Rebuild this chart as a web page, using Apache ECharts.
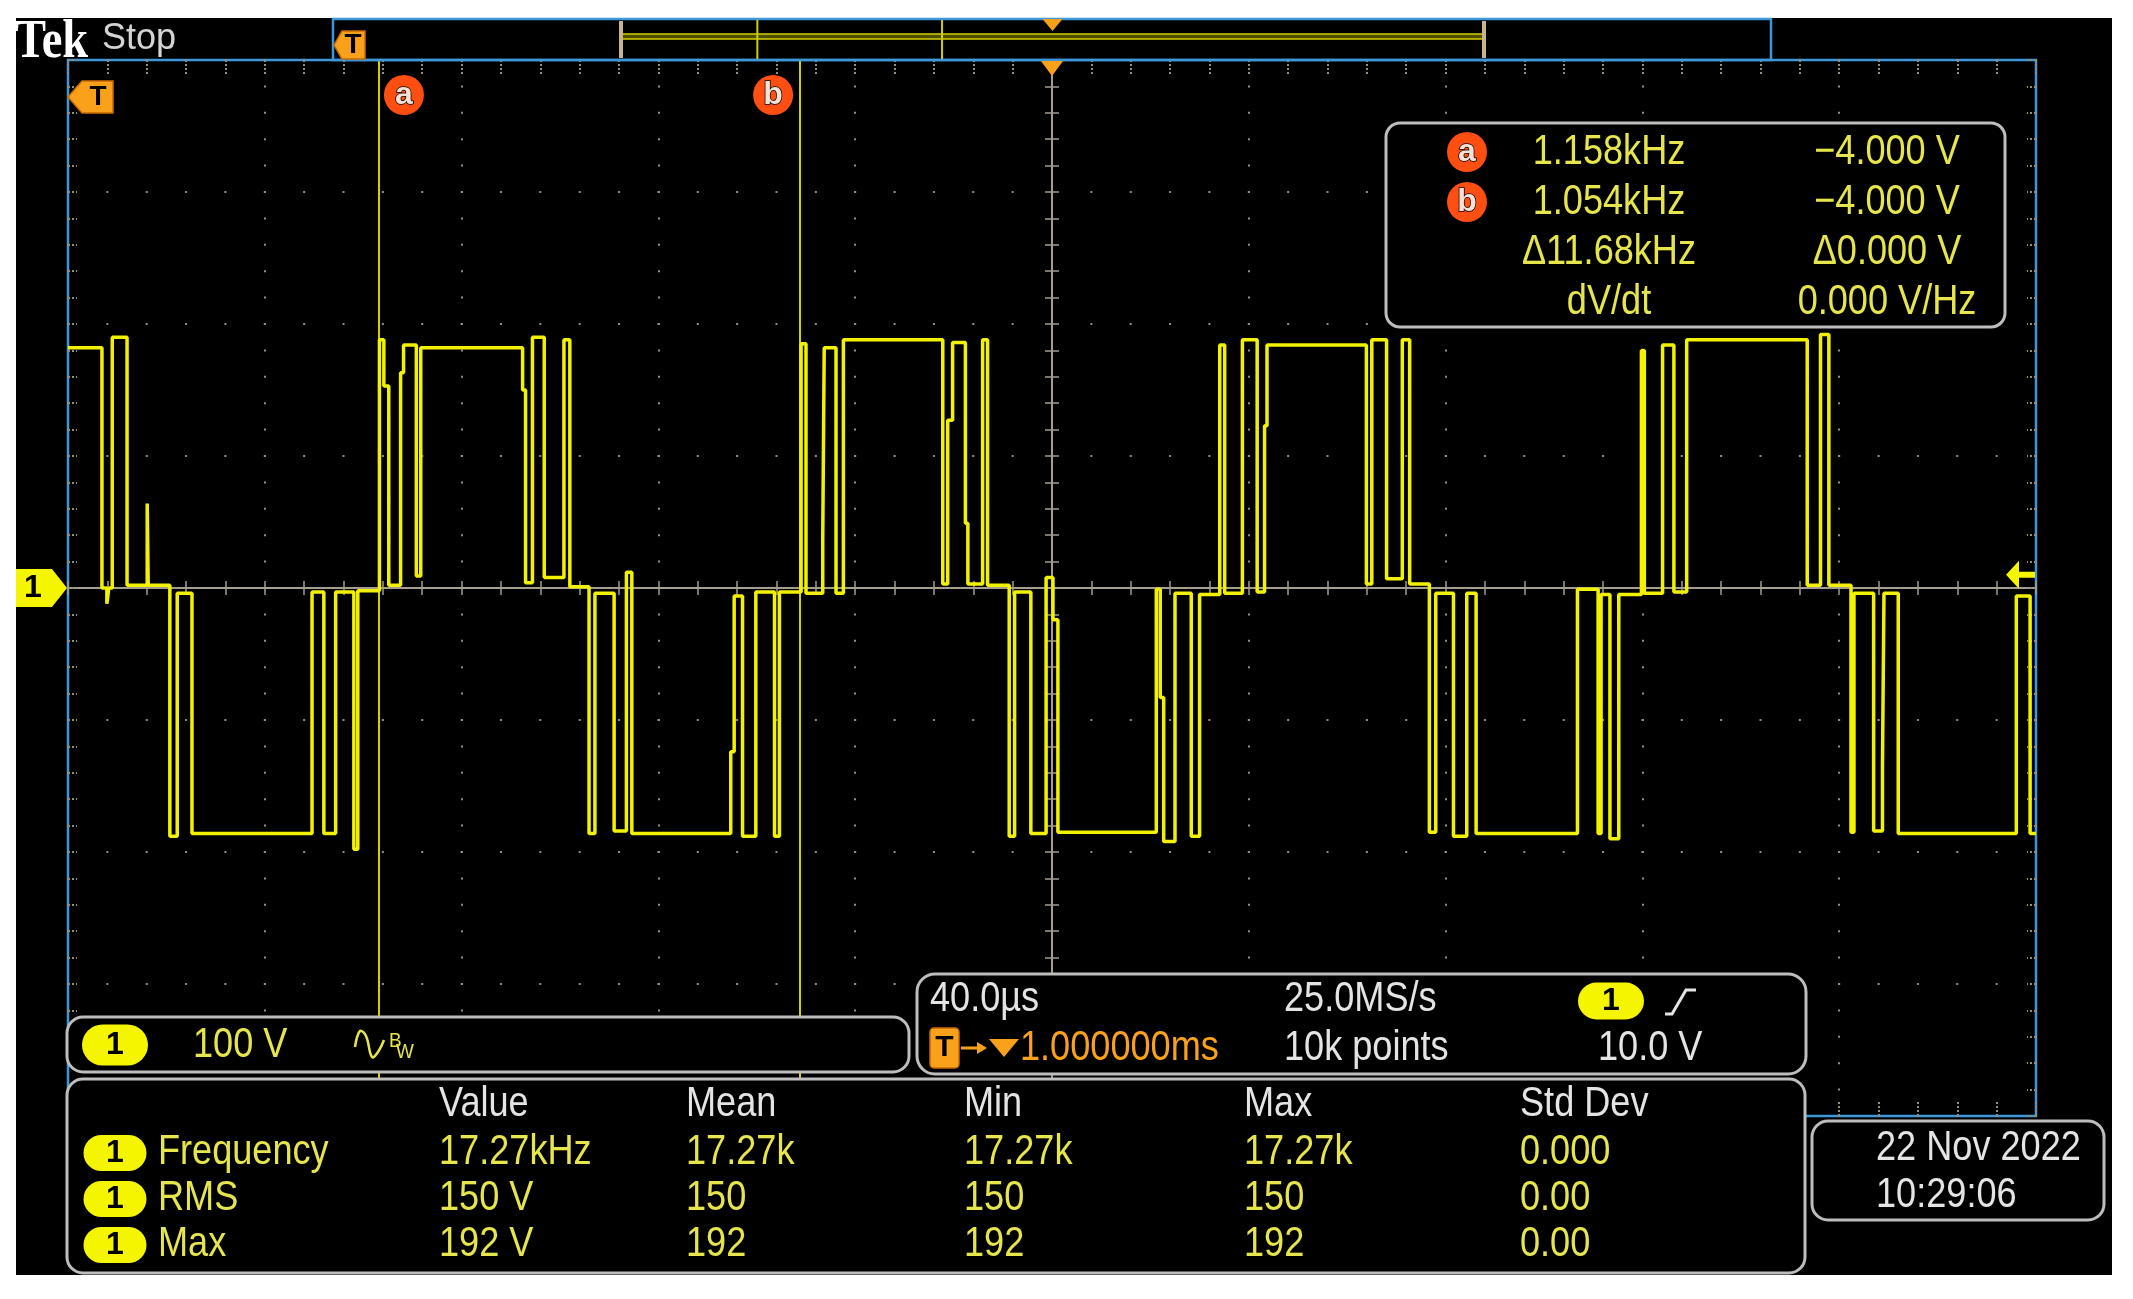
<!DOCTYPE html>
<html>
<head>
<meta charset="utf-8">
<title>Tek scope capture</title>
<script src="https://cdn.jsdelivr.net/npm/echarts@6.0.0/dist/echarts.min.js"></script>
<style>
  html, body { margin: 0; padding: 0; background: #fff; }
  #chart { width: 2133px; height: 1299px; }
</style>
</head>
<body>
<div id="chart"></div>
<script>
// scope settings: 40 us/div x 10 div, 100 V/div x 8 div, trigger at centre
const timeRange = [-200, 200]
const timePerDiv = 40
const voltRange = [-400, 400]
const voltsPerDiv = 100
const triggerLevel = 10

// CH1 trace: level (V) holds from each edge time (us) to the next one
const edgeTimes = [
  -200, -193.1, -192.1, -191.7, -191.0, -188.0, -183.9, -183.7, -179.3, -177.8,
  -174.8, -150.4, -148.0, -145.6, -141.9, -141.1, -136.7, -135.8, -134.8, -132.4,
  -131.8, -129.2, -128.3, -107.6, -107.0, -105.6, -103.2, -99.2, -98.0, -94.1,
  -92.9, -89.0, -86.5, -85.4, -65.3, -64.6, -62.9, -60.2, -56.4, -55.4,
  -51.0, -50.0, -46.6, -46.3, -43.9, -42.4, -22.2, -21.2, -20.2, -17.6,
  -17.1, -14.1, -13.1, -8.7, -7.6, -4.3, -1.2, 0.2, 1.2, 21.2,
  22.0, 22.7, 25.0, 28.3, 30.0, 34.1, 35.1, 38.7, 41.7, 43.2,
  43.7, 63.9, 65.0, 68.0, 71.2, 72.7, 76.7, 78.0, 81.6, 84.3,
  86.2, 106.8, 111.0, 111.6, 113.4, 115.2, 119.8, 120.4, 124.1, 126.4,
  129.0, 153.5, 156.2, 157.9, 162.4, 163.0, 167.0, 168.8, 169.1, 172.0,
  196.0, 198.8, 200
]
const edgeLevels = [
  182, 0, -12, 0, 190, 2, 64, 2, -188, -4,
  -186, -3, -186, -3, -198, -2, 188, 153, 2, 163,
  184, 9, 182, 150, 4, 190, 8, 188, 1, -186,
  -4, -184, 12, -186, -124, -6, -188, -3, -188, -3,
  185, -4, 35, 182, -4, 188, 3, 127, 186, 49,
  3, 188, 2, -188, -3, -186, 8, -24, -185, -1,
  -83, -192, -4, -188, -5, 184, -4, 188, -3, 123,
  184, 3, 188, 7, 188, 3, -185, -4, -188, -4,
  -186, -1, -186, -5, -190, -5, 180, -4, 184, -3,
  188, 2, 192, 2, -185, -4, -184, -134, -4, -186,
  -6, -186, -186
]

const cursorTimes = [-136.8, -51.2]
const cursorNames = ['a', 'b']

const readoutTimes = ['1.158kHz', '1.054kHz', '\u039411.68kHz', 'dV/dt']
const readoutVolts = ['\u22124.000 V', '\u22124.000 V', '\u03940.000 V', '0.000 V/Hz']

const measHeaders = ['Value', 'Mean', 'Min', 'Max', 'Std Dev']
const measNames = ['Frequency', 'RMS', 'Max']
const measFrequency = ['17.27kHz', '17.27k', '17.27k', '17.27k', '0.000']
const measRms = ['150 V', '150', '150', '150', '0.00']
const measMax = ['192 V', '192', '192', '192', '0.00']

const BLUE = '#3d97d9'
const TRACE = '#f2f200'
const CURSOR = '#d2d000'
const PILL = '#f5f500'
const YEL_TXT = '#e6e64c'
const WHITE_TXT = '#e4e4e4'
const ORANGE = '#f9a11b'
const RED = '#ff4e12'
const BOX = '#bdbdbd'
const DOT = '#958e7b'
const CROSS = '#a59d8d'
const SANS = '"Liberation Sans", Arial, sans-serif'

const plot = { left: 68, top: 60, width: 1968, height: 1056 }

const chart = echarts.init(document.getElementById('chart'))

function timeAxis(gridIndex, position, parts) {
  return Object.assign({
    type: 'value', gridIndex, position,
    min: timeRange[0], max: timeRange[1], interval: timePerDiv,
    axisLabel: { show: false },
    axisLine: { show: false, onZero: false },
    axisTick: { show: false },
    minorTick: { show: false },
    splitLine: { show: false }
  }, parts)
}

function voltAxis(gridIndex, position, parts) {
  return Object.assign({
    type: 'value', gridIndex, position,
    min: voltRange[0], max: voltRange[1], interval: voltsPerDiv,
    axisLabel: { show: false },
    axisLine: { show: false, onZero: false },
    axisTick: { show: false },
    minorTick: { show: false },
    splitLine: { show: false }
  }, parts)
}

const edgeTicks = len => ({
  axisTick: { show: true, inside: true, length: len, lineStyle: { color: DOT, width: 2, type: [2, 2] } },
  minorTick: { show: true, splitNumber: 5, length: len, lineStyle: { color: DOT, width: 2, type: [2, 2] } }
})

const crossTicks = () => ({
  axisLine: { show: true, onZero: true, lineStyle: { color: CROSS, width: 2 } },
  axisTick: { show: true, inside: true, length: 7, lineStyle: { color: CROSS, width: 1.5 } },
  minorTick: { show: true, splitNumber: 5, length: 7, lineStyle: { color: CROSS, width: 1.5 } }
})

chart.setOption({
  backgroundColor: '#ffffff',
  animation: false,
  grid: [0, 1, 2, 3].map(i => ({
    ...plot, show: i === 0, borderColor: BLUE, borderWidth: 2.5, backgroundColor: 'transparent'
  })),
  xAxis: [
    timeAxis(0, 'top', {
      ...edgeTicks(14),
      splitLine: { show: true, lineStyle: { color: DOT, width: 2, type: [2, plot.height / 40 - 2], dashOffset: 1 } }
    }),
    timeAxis(1, 'bottom', crossTicks()),
    timeAxis(2, 'top', crossTicks()),
    timeAxis(3, 'bottom', edgeTicks(14))
  ],
  yAxis: [
    voltAxis(0, 'left', {
      ...edgeTicks(9),
      splitLine: { show: true, lineStyle: { color: DOT, width: 2, type: [2, plot.width / 50 - 2], dashOffset: 1 } }
    }),
    voltAxis(1, 'left', crossTicks()),
    voltAxis(2, 'right', crossTicks()),
    voltAxis(3, 'right', edgeTicks(9))
  ],
  series: [{
    type: 'line',
    xAxisIndex: 0,
    yAxisIndex: 0,
    data: edgeTimes.map((t, i) => [t, edgeLevels[i]]),
    step: 'end',
    showSymbol: false,
    symbol: 'none',
    silent: true,
    z: 5,
    lineStyle: { color: TRACE, width: 3.5 },
    markLine: {
      silent: true,
      symbol: ['none', 'none'],
      label: { show: false },
      lineStyle: { color: CURSOR, width: 2, type: 'solid' },
      data: cursorTimes.map(t => ({ xAxis: t }))
    }
  }]
})

// ---- screen furniture ----
function txt(x, base, str, fill, o = {}) {
  const size = o.size || 42
  const align = o.align || 'left'
  return {
    type: 'text', x, y: base - size * 0.35, z: 62, silent: true,
    scaleX: o.scaleX == null ? 0.86 : o.scaleX,
    style: {
      text: str, fill,
      font: `${o.weight || 'normal'} ${size}px ${o.family || SANS}`,
      align, verticalAlign: 'middle', textAlign: align, textVerticalAlign: 'middle'
    }
  }
}

function box(x, y, w, h, r) {
  return {
    type: 'rect', z: 60, silent: true,
    shape: { x, y, width: w, height: h, r },
    style: { fill: '#000', stroke: BOX, lineWidth: 3 }
  }
}

function pill(cx, cy, w, h) {
  return [
    { type: 'rect', z: 61, silent: true, shape: { x: cx - w / 2, y: cy - h / 2, width: w, height: h, r: h / 2 }, style: { fill: PILL } },
    txt(cx, cy + 11, '1', '#000', { size: 32, weight: 'bold', align: 'center', scaleX: 1 })
  ]
}

function tMarker(points, cx, cy) {
  return [
    { type: 'polygon', z: 61, silent: true, shape: { points }, style: { fill: ORANGE, stroke: '#c86a00', lineWidth: 1.5 } },
    txt(cx, cy + 10, 'T', '#000', { size: 28, weight: 'bold', align: 'center', scaleX: 1 })
  ]
}

function circleLabel(cx, cy, ch) {
  return [
    { type: 'circle', z: 61, silent: true, shape: { cx, cy, r: 20 }, style: { fill: RED } },
    {
      type: 'text', z: 62, silent: true, x: cx, y: cy,
      style: {
        text: ch, fill: '#f4e2d6', stroke: '#000', lineWidth: 1.5,
        font: `bold 32px ${SANS}`, align: 'center', verticalAlign: 'middle',
        textAlign: 'center', textVerticalAlign: 'middle'
      }
    }
  ]
}

const px = (t, v) => chart.convertToPixel({ gridIndex: 0 }, [t, v])
const barLeft = 621, barWidth = 863
const barX = t => barLeft + (t - timeRange[0]) / (timeRange[1] - timeRange[0]) * barWidth

const g = []

// black screen
g.push({ type: 'rect', z: -100, silent: true, shape: { x: 16, y: 18, width: 2096, height: 1257 }, style: { fill: '#000' } })

// header
g.push(txt(15, 62, 'Tek', '#ffffff', { size: 54, weight: 'bold', family: '"Liberation Serif", serif', scaleX: 0.86 }))
g.push(txt(102, 52, 'Stop', '#d4d4d4', { size: 36, scaleX: 1.0 }))

// record overview bar
g.push({ type: 'rect', z: 10, silent: true, shape: { x: 333, y: 19, width: 1438, height: 41 }, style: { fill: 'none', stroke: BLUE, lineWidth: 2.5 } })
g.push({ type: 'rect', z: 11, silent: true, shape: { x: barLeft, y: 34, width: barWidth, height: 5 }, style: { fill: '#4d4d00', stroke: '#d6d000', lineWidth: 1.5 } })
;[barLeft, barLeft + barWidth].forEach(x => {
  g.push({ type: 'line', z: 12, silent: true, shape: { x1: x, y1: 21, x2: x, y2: 58 }, style: { stroke: '#c8b38c', lineWidth: 4 } })
})
cursorTimes.forEach(t => {
  g.push({ type: 'line', z: 12, silent: true, shape: { x1: barX(t), y1: 20, x2: barX(t), y2: 59 }, style: { stroke: CURSOR, lineWidth: 2 } })
})
g.push({ type: 'polygon', z: 12, silent: true, shape: { points: [[barX(0) - 10, 19], [barX(0) + 10, 19], [barX(0), 31]] }, style: { fill: ORANGE } })
g.push(...tMarker([[334, 45], [342, 31], [365, 31], [365, 59], [342, 59]], 353, 45))

// markers on the graticule
const trig = px(0, 0)
g.push({ type: 'polygon', z: 20, silent: true, shape: { points: [[trig[0] - 11, 61], [trig[0] + 11, 61], [trig[0], 76]] }, style: { fill: ORANGE } })
g.push(...tMarker([[68, 97], [82, 81], [113, 81], [113, 113], [82, 113]], 98, 97))

const gnd = px(timeRange[0], 0)
g.push({ type: 'polygon', z: 20, silent: true, shape: { points: [[16, gnd[1] - 19], [52, gnd[1] - 19], [67, gnd[1]], [52, gnd[1] + 19], [16, gnd[1] + 19]] }, style: { fill: PILL } })
g.push(txt(33, gnd[1] + 11, '1', '#000', { size: 32, weight: 'bold', align: 'center', scaleX: 1 }))

const lvl = px(timeRange[1], triggerLevel)
g.push({
  type: 'polygon', z: 20, silent: true,
  shape: { points: [[2006, lvl[1]], [2019, lvl[1] - 14], [2019, lvl[1] - 3], [2035, lvl[1] - 3], [2035, lvl[1] + 3], [2019, lvl[1] + 3], [2019, lvl[1] + 14]] },
  style: { fill: PILL }
})

cursorTimes.forEach((t, i) => {
  const x = px(t, 0)[0]
  g.push(...circleLabel(i === 0 ? x + 25 : x - 27, 95, cursorNames[i]))
})

// cursor readout
g.push(box(1386, 123, 619, 204, 14))
const readoutBase = [167, 217, 267, 317]
readoutTimes.forEach((s, i) => {
  g.push(txt(1609, readoutBase[i], s, YEL_TXT, { align: 'center' }))
  g.push(txt(1887, readoutBase[i], readoutVolts[i], YEL_TXT, { align: 'center' }))
})
cursorNames.forEach((c, i) => g.push(...circleLabel(1467, readoutBase[i] - 15, c)))

// channel box
g.push(box(67, 1017, 842, 55, 16))
g.push(...pill(115, 1045, 66, 41))
g.push(txt(193, 1060, '100 V', YEL_TXT))
g.push({
  type: 'polyline', z: 62, silent: true,
  shape: { points: [[355, 1047], [360, 1031], [366, 1036], [372, 1057], [378, 1052], [384, 1040]], smooth: 0.4 },
  style: { stroke: YEL_TXT, lineWidth: 2.5, fill: 'none' }
})
g.push(txt(389, 1049, 'B', YEL_TXT, { size: 21, scaleX: 0.9 }))
g.push(txt(396, 1060, 'W', YEL_TXT, { size: 21, scaleX: 0.9 }))

// timebase / trigger box
g.push(box(917, 974, 889, 100, 18))
g.push(txt(930, 1014, '40.0\u00b5s', WHITE_TXT))
g.push(txt(1284, 1014, '25.0MS/s', WHITE_TXT))
g.push(...pill(1611, 1001, 66, 37))
g.push({
  type: 'polyline', z: 62, silent: true,
  shape: { points: [[1665, 1014], [1672, 1014], [1686, 990], [1696, 990]] },
  style: { stroke: WHITE_TXT, lineWidth: 3, fill: 'none' }
})
g.push({ type: 'rect', z: 61, silent: true, shape: { x: 930, y: 1028, width: 29, height: 40, r: 4 }, style: { fill: ORANGE, stroke: '#c86a00', lineWidth: 1.5 } })
g.push(txt(944.5, 1058, 'T', '#000', { size: 30, weight: 'bold', align: 'center', scaleX: 1 }))
g.push({ type: 'line', z: 61, silent: true, shape: { x1: 961, y1: 1048, x2: 980, y2: 1048 }, style: { stroke: ORANGE, lineWidth: 3 } })
g.push({ type: 'polygon', z: 61, silent: true, shape: { points: [[977, 1042], [987, 1048], [977, 1054]] }, style: { fill: ORANGE } })
g.push({ type: 'polygon', z: 61, silent: true, shape: { points: [[989, 1039], [1019, 1039], [1004, 1057]] }, style: { fill: ORANGE } })
g.push(txt(1020, 1063, '1.000000ms', ORANGE))
g.push(txt(1284, 1063, '10k points', WHITE_TXT))
g.push(txt(1598, 1063, '10.0 V', WHITE_TXT))

// measurement table
g.push(box(67, 1079, 1738, 194, 16))
const colX = [439, 686, 964, 1244, 1520]
measHeaders.forEach((h, i) => g.push(txt(colX[i], 1119, h, WHITE_TXT)))
const rowBase = [1167, 1213, 1259]
;[measFrequency, measRms, measMax].forEach((row, r) => {
  g.push(...pill(115, rowBase[r] - 14, 63, 36))
  g.push(txt(158, rowBase[r], measNames[r], YEL_TXT))
  row.forEach((v, i) => g.push(txt(colX[i], rowBase[r], v, YEL_TXT)))
})

// date box
g.push(box(1812, 1121, 292, 99, 16))
g.push(txt(1876, 1163, '22 Nov 2022', WHITE_TXT))
g.push(txt(1876, 1210, '10:29:06', WHITE_TXT))

chart.setOption({ graphic: g })
</script>
</body>
</html>
